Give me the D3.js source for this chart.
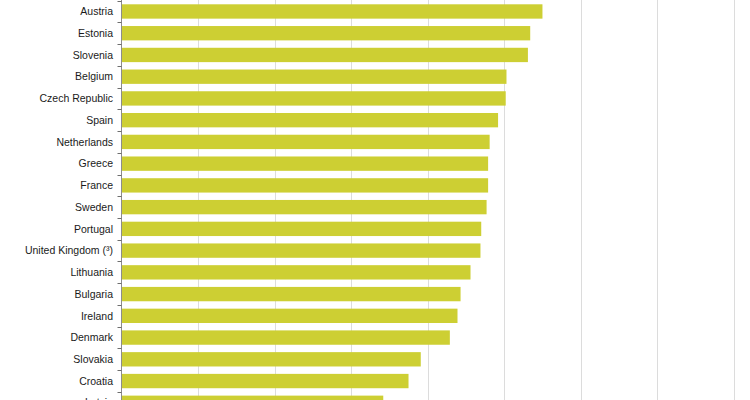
<!DOCTYPE html>
<html>
<head>
<meta charset="utf-8">
<script src="https://cdn.jsdelivr.net/npm/d3@7"></script>
<style>
  html, body { margin: 0; padding: 0; background: #fff; overflow: hidden; }
  svg { display: block; }
</style>
</head>
<body>
<svg id="chart" width="750" height="400"></svg>
<script>
const countries = ["Austria","Estonia","Slovenia","Belgium","Czech Republic","Spain","Netherlands","Greece","France","Sweden","Portugal","United Kingdom (³)","Lithuania","Bulgaria","Ireland","Denmark","Slovakia","Croatia","Latvia"];
const values = [55.0,53.4,53.1,50.3,50.2,49.2,48.1,47.9,47.9,47.7,47.0,46.9,45.6,44.3,43.9,42.9,39.1,37.5,34.2];
const xTicks = [0,10,20,30,40,50,60,70,80];

(function () {
const svg = d3.select("#chart");
const mLeft = 121.5, mRight = 733.8;
const mTop = 0.6, step = 21.74;

const x = d3.scaleLinear().domain([0, 80]).range([mLeft, mRight]);
const y = d3.scaleBand().domain(countries)
  .range([mTop, mTop + step * countries.length])
  .paddingInner(0.34).paddingOuter(0.17);

// gridlines
svg.append("g").selectAll("line").data(xTicks.slice(1)).join("line")
  .attr("x1", d => Math.round(x(d)) + 0.5).attr("x2", d => Math.round(x(d)) + 0.5)
  .attr("y1", 0).attr("y2", 400)
  .attr("stroke", "#dcdcdc").attr("stroke-width", 1);

// bars
svg.append("g").selectAll("rect").data(countries).join("rect")
  .attr("x", x(0))
  .attr("y", d => y(d))
  .attr("width", (d, i) => x(values[i]) - x(0))
  .attr("height", y.bandwidth())
  .attr("fill", "#cdcf33");

// axis line
svg.append("line")
  .attr("x1", mLeft).attr("x2", mLeft).attr("y1", 0).attr("y2", 400)
  .attr("stroke", "#8c8c8c").attr("stroke-width", 1);

// tick marks at band boundaries
const bounds = countries.map(d => y(d) - (y.step() - y.bandwidth()) / 2);
svg.append("g").selectAll("line").data(bounds).join("line")
  .attr("x1", mLeft - 4).attr("x2", mLeft)
  .attr("y1", d => Math.round(d) + 0.5).attr("y2", d => Math.round(d) + 0.5)
  .attr("stroke", "#6e6e6e").attr("stroke-width", 1);

// labels
svg.append("g").selectAll("text").data(countries).join("text")
  .attr("x", 113)
  .attr("y", d => y(d) + y.bandwidth() / 2)
  .attr("dy", "0.35em")
  .attr("text-anchor", "end")
  .attr("font-family", "'Liberation Sans', Arial, sans-serif")
  .attr("font-size", "10.5px")
  .attr("fill", "#1a1a1a")
  .text(d => d);
})();
</script>
</body>
</html>
